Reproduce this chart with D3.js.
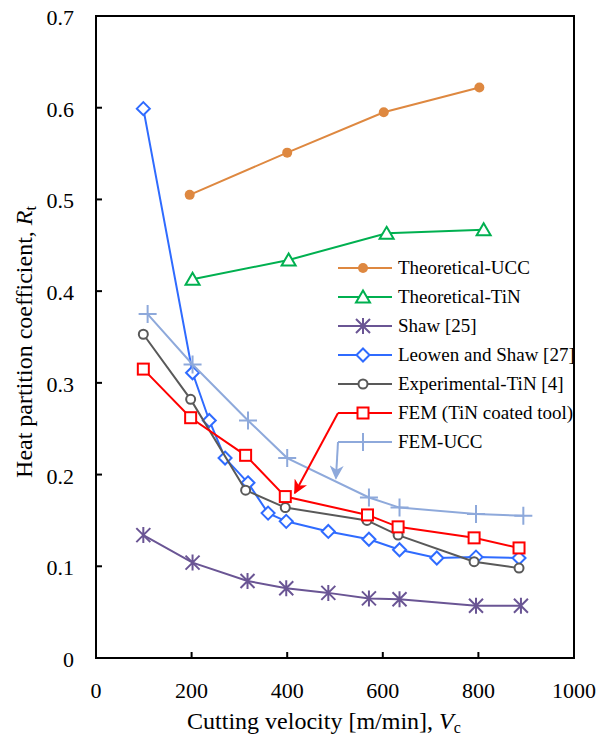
<!DOCTYPE html>
<html>
<head>
<meta charset="utf-8">
<script src="https://cdn.jsdelivr.net/npm/d3@7"></script>
</head>
<body style="margin:0">
<div id="chart"></div>
<script>
// data
const xTicks = [0, 200, 400, 600, 800, 1000];
const yTicks = [0, 0.1, 0.2, 0.3, 0.4, 0.5, 0.6, 0.7];

const ucc_v = [196, 400, 602, 802];
const ucc_r = [0.505, 0.551, 0.595, 0.622];

const tin_v = [202, 403, 608, 811];
const tin_r = [0.413, 0.434, 0.463, 0.467];

const shaw_v = [99, 202, 317, 398, 486, 571, 635, 795, 889];
const shaw_r = [0.134, 0.104, 0.084, 0.076, 0.071, 0.065, 0.064, 0.057, 0.057];

const leowen_v = [99, 202, 237, 270, 318, 360, 398, 486, 571, 635, 713, 795, 885];
const leowen_r = [0.599, 0.311, 0.259, 0.218, 0.191, 0.158, 0.149, 0.138, 0.1295, 0.118, 0.109, 0.11, 0.109];

const exp_v = [99, 198, 313, 396, 567, 632, 791, 885];
const exp_r = [0.353, 0.282, 0.183, 0.164, 0.150, 0.134, 0.105, 0.098];

const fem_v = [99, 198, 313, 396, 568, 632, 791, 885];
const fem_r = [0.315, 0.262, 0.221, 0.176, 0.156, 0.143, 0.131, 0.120];

const femucc_v = [108, 202, 318, 400, 571, 635, 795, 894];
const femucc_r = [0.375, 0.320, 0.259, 0.218, 0.175, 0.164, 0.157, 0.155];

const series = [
  { name: "Theoretical-UCC", v: ucc_v, r: ucc_r, color: "#DE8840", marker: "dot" },
  { name: "Theoretical-TiN", v: tin_v, r: tin_r, color: "#00B050", marker: "triangle" },
  { name: "Shaw [25]", v: shaw_v, r: shaw_r, color: "#6A5594", marker: "star" },
  { name: "Leowen and Shaw [27]", v: leowen_v, r: leowen_r, color: "#2F6BFF", marker: "diamond" },
  { name: "Experimental-TiN [4]", v: exp_v, r: exp_r, color: "#595959", marker: "circle" },
  { name: "FEM (TiN coated tool)", v: fem_v, r: fem_r, color: "#FF0000", marker: "square" },
  { name: "FEM-UCC", v: femucc_v, r: femucc_r, color: "#8EA9DB", marker: "plus" }
];

const width = 611, height = 737;
const margin = { left: 96, right: 37, top: 16, bottom: 79 };
const serif = '"Times New Roman", "Liberation Serif", Tinos, serif';

const svg = d3.select("#chart")
              .append("svg")
              .attr("width", width)
              .attr("height", height)
              .attr("font-family", "Times New Roman");

const x = d3.scaleLinear()
            .domain([0, 1000])
            .range([margin.left, width - margin.right]);

const y = d3.scaleLinear()
            .domain([0, 0.7])
            .range([height - margin.bottom, margin.top]);

// frame
svg.append("rect")
   .attr("x", x(0))
   .attr("y", y(0.7))
   .attr("width", x(1000) - x(0))
   .attr("height", y(0) - y(0.7))
   .attr("fill", "none")
   .attr("stroke", "#000")
   .attr("stroke-width", 2);

// tick marks pointing inward, labels written separately
svg.selectAll(".xtick")
   .data(xTicks.slice(1, -1))
   .enter().append("line")
   .attr("x1", d => x(d)).attr("x2", d => x(d))
   .attr("y1", y(0)).attr("y2", y(0) - 6)
   .attr("stroke", "#000").attr("stroke-width", 2);

svg.selectAll(".ytick")
   .data(yTicks.slice(1, -1))
   .enter().append("line")
   .attr("x1", x(0)).attr("x2", x(0) + 6)
   .attr("y1", d => y(d)).attr("y2", d => y(d))
   .attr("stroke", "#000").attr("stroke-width", 2);

svg.selectAll(".xlab")
   .data(xTicks)
   .enter().append("text")
   .attr("x", d => x(d))
   .attr("y", y(0) + 40)
   .attr("text-anchor", "middle")
   .style("font-family", serif)
   .style("font-size", "22px")
   .text(d => d);

svg.selectAll(".ylab")
   .data(yTicks)
   .enter().append("text")
   .attr("x", x(0) - 22)
   .attr("y", d => y(d) + 9)
   .attr("text-anchor", "end")
   .style("font-family", serif)
   .style("font-size", "22px")
   .text(d => d === 0 ? "0" : d.toFixed(1));

// axis titles
const xt = svg.append("text")
   .attr("x", 324)
   .attr("y", 729)
   .attr("text-anchor", "middle")
   .style("font-family", serif)
   .style("font-size", "24px");
xt.append("tspan").text("Cutting velocity [m/min],  ");
xt.append("tspan").style("font-style", "italic").text("V");
xt.append("tspan").attr("dy", 4).style("font-size", "16px").text("c");

const yt = svg.append("text")
   .attr("transform", "translate(32,342) rotate(-90)")
   .attr("text-anchor", "middle")
   .style("font-family", serif)
   .style("font-size", "24px");
yt.append("tspan").text("Heat partition coefficient, ");
yt.append("tspan").style("font-style", "italic").text("R");
yt.append("tspan").attr("dy", 4).style("font-size", "16px").text("t");

// marker drawing
function drawMarker(g, type, color) {
  if (type === "dot") {
    g.append("circle").attr("r", 5).attr("fill", color);
  } else if (type === "triangle") {
    g.append("path").attr("d", "M0,-6.5L7,5.5L-7,5.5Z")
     .attr("fill", "#fff").attr("stroke", color).attr("stroke-width", 2);
  } else if (type === "star") {
    g.append("path").attr("d", "M-7,-7L7,7M-7,7L7,-7M0,-8L0,8")
     .attr("stroke", color).attr("stroke-width", 2);
  } else if (type === "diamond") {
    g.append("path").attr("d", "M0,-6.5L6.5,0L0,6.5L-6.5,0Z")
     .attr("fill", "#fff").attr("stroke", color).attr("stroke-width", 2);
  } else if (type === "circle") {
    g.append("circle").attr("r", 4.5)
     .attr("fill", "#fff").attr("stroke", color).attr("stroke-width", 2);
  } else if (type === "square") {
    g.append("rect").attr("x", -5.5).attr("y", -5.5).attr("width", 11).attr("height", 11)
     .attr("fill", "#fff").attr("stroke", color).attr("stroke-width", 2);
  } else if (type === "plus") {
    g.append("path").attr("d", "M-9,0L9,0M0,-9L0,9")
     .attr("stroke", color).attr("stroke-width", 2);
  }
}

const line = d3.line()
               .x(d => x(d[0]))
               .y(d => y(d[1]));

series.forEach(s => {
  const pts = s.v.map((v, i) => [v, s.r[i]]);
  svg.append("path")
     .datum(pts)
     .attr("d", line)
     .attr("fill", "none")
     .attr("stroke", s.color)
     .attr("stroke-width", 2);
  pts.forEach(p => {
    const g = svg.append("g").attr("transform", `translate(${x(p[0])},${y(p[1])})`);
    drawMarker(g, s.marker, s.color);
  });
});

// legend
const legX = 338, legY = 268, legStep = 29;
series.forEach((s, i) => {
  const ly = legY + i * legStep;
  svg.append("line")
     .attr("x1", legX).attr("x2", legX + 54)
     .attr("y1", ly).attr("y2", ly)
     .attr("stroke", s.color).attr("stroke-width", 2);
  const g = svg.append("g").attr("transform", `translate(${legX + 25},${ly})`);
  drawMarker(g, s.marker, s.color);
  svg.append("text")
     .attr("x", legX + 60)
     .attr("y", ly + 6)
     .style("font-family", serif)
     .style("font-size", "19px")
     .text(s.name);
});

// annotation arrows from legend to curves
const defs = svg.append("defs");
defs.append("marker")
    .attr("id", "arrRed")
    .attr("viewBox", "0 0 10 10")
    .attr("refX", 9).attr("refY", 5)
    .attr("markerWidth", 7).attr("markerHeight", 7)
    .attr("orient", "auto")
    .append("path").attr("d", "M0,0L10,5L0,10L3,5Z").attr("fill", "#FF0000");
defs.append("marker")
    .attr("id", "arrBlue")
    .attr("viewBox", "0 0 10 10")
    .attr("refX", 9).attr("refY", 5)
    .attr("markerWidth", 7).attr("markerHeight", 7)
    .attr("orient", "auto")
    .append("path").attr("d", "M0,0L10,5L0,10L3,5Z").attr("fill", "#8EA9DB");

svg.append("path")
   .attr("d", `M${legX},${legY + 5 * legStep}L${x(416)},${y(0.18)}`)
   .attr("fill", "none").attr("stroke", "#FF0000").attr("stroke-width", 2)
   .attr("marker-end", "url(#arrRed)");
svg.append("path")
   .attr("d", `M${legX},${legY + 6 * legStep}L${x(502)},${y(0.196)}`)
   .attr("fill", "none").attr("stroke", "#8EA9DB").attr("stroke-width", 2)
   .attr("marker-end", "url(#arrBlue)");
</script>
</body>
</html>
